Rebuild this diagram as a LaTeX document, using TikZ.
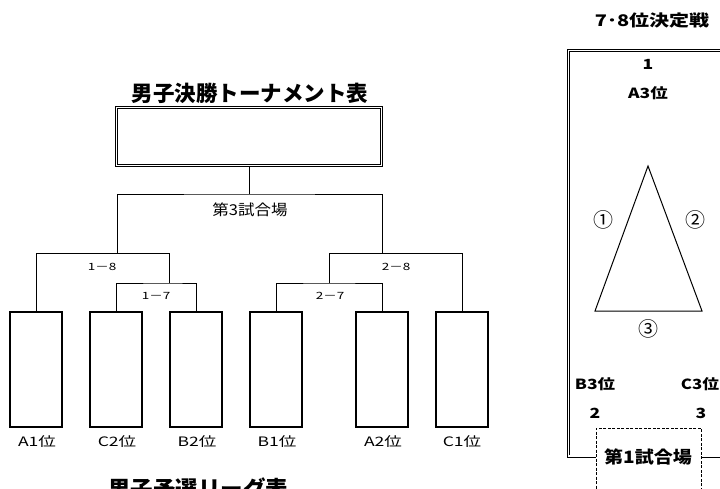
\documentclass[tikz,border=0pt]{standalone}
\usepackage{fontspec}
\usepackage{graphicx}
\setmainfont{Noto Sans CJK JP}
\newcommand\hx[2]{\scalebox{#1}[1]{#2}}
\tikzset{
  posbox/.style={draw, line width=2pt, minimum width=52pt, minimum height=115pt, inner sep=0pt},
  br/.style={line width=1pt},
  sm/.style={font=\fontsize{10}{12}\selectfont, inner sep=0pt},
  lbl/.style={font=\fontsize{13}{15}\selectfont, inner sep=0pt},
  ttl/.style={font=\bfseries\fontsize{21.5}{24}\selectfont, inner sep=0pt},
  rb/.style={font=\bfseries\fontsize{14}{16}\selectfont, inner sep=0pt},
  circ/.style={font=\fontsize{20}{22}\selectfont, inner sep=0pt},
  dbl/.style={draw, double, double distance=1.4pt, line width=0.8pt},
}
\begin{document}
\begin{tikzpicture}[x=1pt,y=-1pt]
\useasboundingbox (0,0) rectangle (720,488);
\clip (0,0) rectangle (720,488);
\fill[white] (0,0) rectangle (720,488);

% ---- left: tournament ----
\node[ttl] (title) at (250,93) {男子決勝トーナメント表};
\node[dbl, minimum width=265pt, minimum height=58pt, inner sep=0pt] (final) at (249,136.5) {};

\node[posbox] (a1) at (36,369.5) {};
\node[posbox] (c2) at (116,369.5) {};
\node[posbox] (b2) at (196,369.5) {};
\node[posbox] (b1) at (276,369.5) {};
\node[posbox] (a2) at (382,369.5) {};
\node[posbox] (c1) at (462,369.5) {};

\coordinate (top) at (249,194);
\coordinate (s18) at (117,253);
\coordinate (j18) at (169,253);
\coordinate (j17) at (169,283);
\coordinate (s28) at (382,253);
\coordinate (j28) at (329,253);
\coordinate (j27) at (329,283);

\draw[br] (final.south) -- (top);
\draw[br] (s18) |- (top) -| (s28);
\draw[br] (a1.north) |- (j18) -- (j17);
\draw[br] (c2.north) |- (j17) -| (b2.north);
\draw[br] (b1.north) |- (j27) -| (a2.north);
\draw[br] (j27) -- (j28) -| (c1.north);

\node[font=\fontsize{15}{17}\selectfont, inner sep=0pt] (g3) at (250,210) {\hx{1.1}{第3試合場}};
\node[sm] (l18) at (102,267) {\hx{1.35}{1－8}};
\node[sm] (l17) at (156,296) {\hx{1.35}{1－7}};
\node[sm] (l27) at (330,296) {\hx{1.35}{2－7}};
\node[sm] (l28) at (396,267) {\hx{1.35}{2－8}};

\node[lbl] (ta1) at (37,442) {\hx{1.35}{A1位}};
\node[lbl] (tc2) at (117,442) {\hx{1.35}{C2位}};
\node[lbl] (tb2) at (197,442) {\hx{1.35}{B2位}};
\node[lbl] (tb1) at (277,442) {\hx{1.35}{B1位}};
\node[lbl] (ta2) at (383,442) {\hx{1.35}{A2位}};
\node[lbl] (tc1) at (462,442) {\hx{1.35}{C1位}};

\node[font=\bfseries\fontsize{22.5}{25}\selectfont, inner sep=0pt] (title2) at (198,489) {男子予選リーグ表};

% ---- right: 7-8 ----
\node[font=\bfseries\fontsize{16}{18}\selectfont, inner sep=0pt] (t78) at (652,20) {\hx{1.25}{7･8位決定戦}};
\draw[dbl] (760,50.5) -- (568.5,50.5) -- (568.5,456) -- (760,456);

\node[rb] (n1) at (648,64) {\hx{1.25}{1}};
\node[rb] (pa3) at (648,93) {\hx{1.25}{A3位}};
\draw[line width=1pt] (648,166) -- (702,311) -- (595,311) -- cycle;
\node[circ] (m1) at (603,220) {①};
\node[circ] (m2) at (695,220) {②};
\node[circ] (m3) at (648,329) {③};
\node[rb] (pb3) at (595,384) {\hx{1.25}{B3位}};
\node[rb] (pc3) at (700,384) {\hx{1.2}{C3位}};
\node[rb] (n2) at (595,413) {\hx{1.25}{2}};
\node[rb] (n3) at (701,413) {\hx{1.25}{3}};
\node[draw, fill=white, line width=0.7pt, dash pattern=on 3pt off 1.5pt, minimum width=105pt, minimum height=70pt, inner sep=0pt] (court) at (648.5,463) {};
\node[font=\bfseries\fontsize{17}{19}\selectfont, inner sep=0pt] (court1) at (648,457) {\hx{1.12}{第1試合場}};
\end{tikzpicture}
\end{document}
